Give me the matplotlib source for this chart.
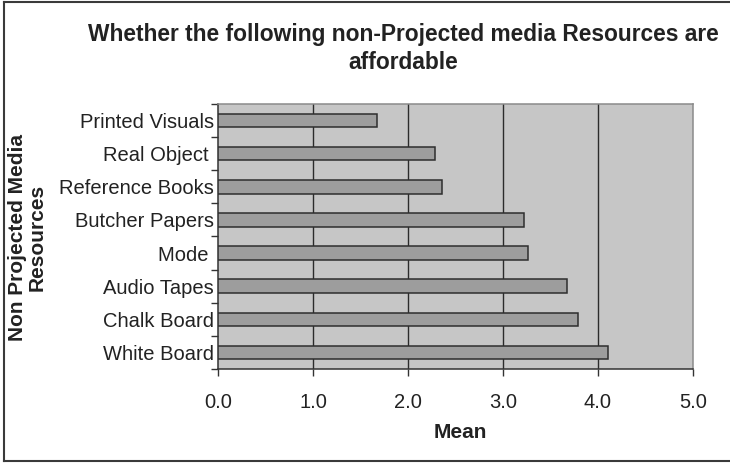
import matplotlib
matplotlib.use("Agg")
import matplotlib.pyplot as plt
from matplotlib.lines import Line2D

# Mean affordability rating for each non-projected media resource
resources = ["Printed Visuals", "Real Object ", "Reference Books", "Butcher Papers",
             "Mode ", "Audio Tapes", "Chalk Board", "White Board"]
means = [1.67, 2.28, 2.36, 3.22, 3.26, 3.67, 3.79, 4.10]
x_ticks = [0.0, 1.0, 2.0, 3.0, 4.0, 5.0]
x_tick_labels = ["0.0", "1.0", "2.0", "3.0", "4.0", "5.0"]

plt.rcParams["font.family"] = ["Liberation Sans", "DejaVu Sans"]

W, H = 730, 465
fig = plt.figure(figsize=(W / 100, H / 100), dpi=100)
fig.patch.set_facecolor("white")


def px(x, y):
    return x / W, 1 - y / H


# plot area in pixel coordinates: left, top, right, bottom
L, T, R, B = 218, 104, 693, 369
ax = fig.add_axes([L / W, 1 - B / H, (R - L) / W, (B - T) / H])
ax.set_facecolor("#c6c6c6")

n = len(resources)
ypos = [n - 1 - i + 0.5 for i in range(n)]  # first item at the top
ax.barh(ypos, means, height=0.41, color="#9d9d9d", edgecolor="#2e2e2e",
        linewidth=1.1, zorder=3)

ax.set_xlim(0, 5)
ax.set_ylim(0, n)

# vertical gridlines
for v in x_ticks[1:-1]:
    ax.axvline(v, color="#2b2b2b", linewidth=1.0, zorder=2)

ax.set_xticks(x_ticks)
ax.set_xticklabels(x_tick_labels, fontsize=14.5, color="#222222")
ax.set_yticks(range(n + 1), minor=False)
ax.set_yticklabels([])
ax.set_yticks(ypos, minor=True)
ax.set_yticklabels(resources, minor=True, fontsize=14.5, color="#222222")
ax.tick_params(axis="y", which="minor", length=0, pad=3)
ax.tick_params(axis="y", which="major", length=5, width=1, color="#333333", direction="out")
ax.tick_params(axis="x", length=5, width=1, color="#333333", direction="out", pad=12)

for side in ("left", "bottom"):
    ax.spines[side].set_color("#333333")
    ax.spines[side].set_linewidth(1.1)
for side in ("right", "top"):
    ax.spines[side].set_color("#8a8a8a")
    ax.spines[side].set_linewidth(1.1)

# title, two lines
fig.text(*px(403, 41.5), "Whether the following non-Projected media Resources are",
         ha="center", va="baseline", fontsize=16.4, fontweight="bold", color="#222222")
fig.text(*px(403, 69), "affordable",
         ha="center", va="baseline", fontsize=16.4, fontweight="bold", color="#222222")

# axis titles
fig.text(*px(460, 438), "Mean", ha="center", va="baseline",
         fontsize=15, fontweight="bold", color="#222222")
fig.text(*px(23, 237.5), "Non Projected Media", ha="center", va="baseline",
         rotation=90, rotation_mode="anchor", fontsize=15, fontweight="bold", color="#222222")
fig.text(*px(42.5, 237.5), "Resources", ha="center", va="baseline",
         rotation=90, rotation_mode="anchor", fontsize=15, fontweight="bold", color="#222222")

# outer frame: top, left and bottom edges
frame_kw = dict(color="#3a3a3a", linewidth=1.5, transform=fig.transFigure)
fig.add_artist(Line2D([4 / W, 1], [1 - 2 / H, 1 - 2 / H], **frame_kw))
fig.add_artist(Line2D([4 / W, 4 / W], [1 - 2 / H, 1 - 461 / H], **frame_kw))
fig.add_artist(Line2D([4 / W, 1], [1 - 461 / H, 1 - 461 / H], **frame_kw))

fig.savefig("out.png", dpi=100)
